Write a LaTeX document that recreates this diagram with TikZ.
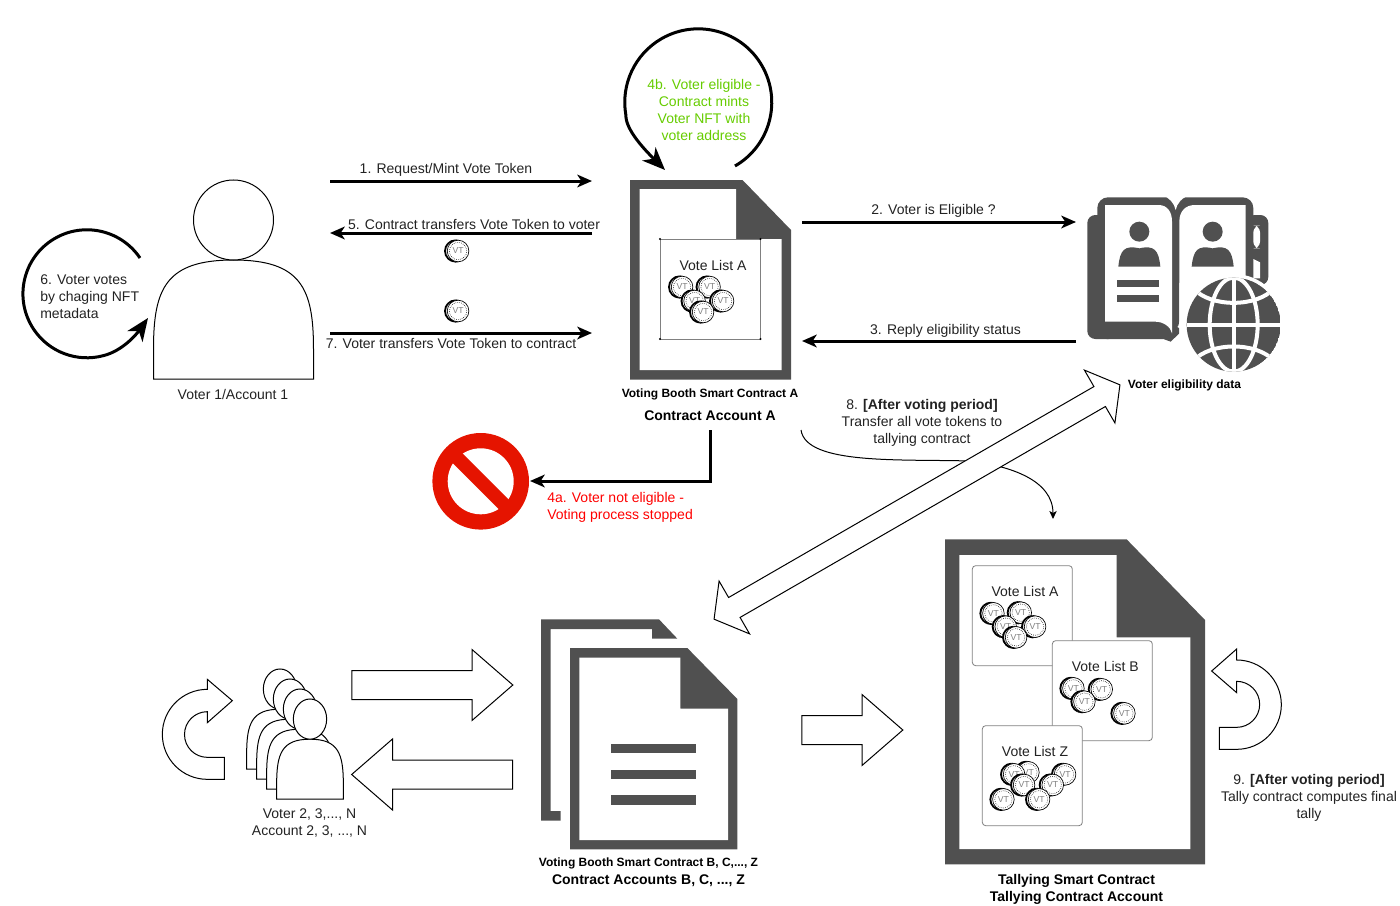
\documentclass[tikz,border=0pt]{standalone}
\usepackage{fontspec}
\setmainfont{Liberation Sans}
\usetikzlibrary{arrows.meta,shapes.arrows}
\definecolor{icongray}{HTML}{505050}
\definecolor{labelgray}{HTML}{222222}
\definecolor{stopred}{HTML}{E51400}
\definecolor{okgreen}{HTML}{66CC00}
\tikzset{
	lbl/.style={font=\fontsize{10.5pt}{12.75pt}\selectfont,text=labelgray,align=center,inner sep=0pt},
	boldlbl/.style={font=\fontsize{10.5pt}{12.75pt}\selectfont\bfseries,text=black,align=center,inner sep=0pt},
	smalllbl/.style={font=\fontsize{9pt}{12pt}\selectfont\bfseries,text=black,align=center,inner sep=0pt},
	msgarrow/.style={line width=2.25pt,-{Stealth[length=11pt,width=9.5pt,inset=3pt]}},
	looparrow/.style={line width=2.25pt,-{Stealth[length=17pt,width=14pt,inset=5pt]}},
	thinarrow/.style={line width=.75pt,-{Stealth[length=6pt,width=5.5pt,inset=1.5pt]}},
	blockarrow/.style={single arrow,draw=black,fill=white,line width=.75pt,inner xsep=0pt,inner ysep=10.5pt,outer sep=0pt,
		minimum width=52.5pt,single arrow head extend=15.75pt,single arrow tip angle=82},
	listbox/.style={draw=gray,fill=white,line width=.6pt,rounded corners=2.5pt},
	person/.style={draw=black,fill=white,line width=.75pt},
	coin/.pic={
		\draw[black,fill=white,line width=1.4pt,dash pattern=on .5pt off .2pt] (-1pt,0pt) circle (8pt);
		\draw[black,fill=white,line width=.5pt] (.8pt,0pt) circle (8.1pt);
		\draw[black,line width=.45pt,densely dotted] (.8pt,0pt) circle (6.5pt);
		\node[font=\fontsize{6.5pt}{6.5pt}\selectfont,text=gray,inner sep=0pt] (vt) at (.8pt,0pt) {VT};
	},
	voter/.pic={
		\draw[person] (-80,0) -- (-80,-30) .. controls (-80,-90) and (-68,-119) .. (0,-119)
			.. controls (68,-119) and (80,-90) .. (80,-30) -- (80,0) -- cycle;
		\draw[person] (0,-159) circle (40);
	}
}
\begin{document}
\begin{tikzpicture}[x=.75pt,y=-.75pt]
	\useasboundingbox (0,0) rectangle (1400,906);

	\pic at (233.5,379) {voter};
	\node[lbl] (voterlbl) at (233,394) {Voter 1/Account 1};

	\coordinate (req1) at (330,181);
	\coordinate (req2) at (592,181);
	\coordinate (tr1) at (592,233);
	\coordinate (tr2) at (330,233);
	\coordinate (vt1) at (330,333);
	\coordinate (vt2) at (592,333);
	\draw[msgarrow] (req1) -- (req2);
	\draw[msgarrow] (tr1) -- (tr2);
	\draw[msgarrow] (vt1) -- (vt2);
	\node[lbl] (msg1) at (446,170) {1. Request/Mint Vote Token};
	\node[lbl] (msg5) at (474,224) {5. Contract transfers Vote Token to voter};
	\node[lbl] (msg7) at (451,343) {7. Voter transfers Vote Token to contract};
	\pic at (457,251) {coin};
	\pic at (457,311) {coin};

	\coordinate (self6a) at (140,258);
	\coordinate (self6b) at (148,318);
	\draw[looparrow] (self6a) arc (-34:-285:64) .. controls (122,351) and (136,335) .. (self6b);
	\node[lbl,align=left,anchor=west] (msg6) at (40,297) {6. Voter votes\\by chaging NFT\\metadata};

	\coordinate (self4a) at (735,166);
	\coordinate (self4b) at (665,170);
	\draw[looparrow] (self4a) arc (60:-190:73.5) .. controls (625.6,130) and (645,150) .. (self4b);
	\node[lbl,text=okgreen] (msg4b) at (704,110) {4b. Voter eligible -\\Contract mints\\Voter NFT with\\voter address};

	\fill[icongray] (630,180) -- (742.5,180) -- (791,230) -- (791,379.5) -- (630,379.5) -- cycle;
	\fill[white] (639.5,189) -- (736,189) -- (736,239) -- (781.5,239) -- (781.5,370) -- (639.5,370) -- cycle;
	\draw[draw=gray,fill=white,line width=.6pt] (660,239) rectangle (760.5,339);
	\foreach \kx/\ky in {660/239,760.5/239,660/339,760.5/339}
		\fill[black] (\kx,\ky) circle (1.2);
	\node[lbl] (listA) at (713,265) {Vote List A};
	\foreach \cx/\cy in {681/287,708.5/287,693.5/301,722/301,702/312}
		\pic at (\cx,\cy) {coin};
	\node[smalllbl] (boothA) at (710,394) {Voting Booth Smart Contract A};
	\node[boldlbl] (accA) at (710,416) {Contract Account A};

	\coordinate (elig1) at (802,222);
	\coordinate (elig2) at (1076,222);
	\coordinate (rep1) at (1076,341);
	\coordinate (rep2) at (802,341);
	\draw[msgarrow] (elig1) -- (elig2);
	\draw[msgarrow] (rep1) -- (rep2);
	\node[lbl] (msg2) at (933.5,211) {2. Voter is Eligible ?};
	\node[lbl] (msg3) at (945.5,331) {3. Reply eligibility status};

	\begin{scope}[shift={(1080,185)},x=.25pt,y=-.25pt]
		\fill[icongray,rounded corners=6pt] (22,90) rectangle (110,462);
		\fill[icongray] (80,400) -- (250,400) -- (298,430) -- (298,445) -- (272,470) -- (250,462) -- (80,462) -- cycle;
		\fill[icongray,rounded corners=8pt] (52,37) -- (298,37) -- (298,440) -- (52,440) -- cycle;
		\fill[icongray,rounded corners=8pt] (285,37) -- (520,37) -- (520,300) -- (285,300) -- cycle;
		\fill[icongray,rounded corners=6pt] (500,90) rectangle (565,300);
		\fill[white] (245,30) .. controls (268,37) and (283,55) .. (287,75) .. controls (291,55) and (306,37) .. (330,30) -- cycle;
		\fill[white,rounded corners=5pt] (520,122) -- (540,122) -- (540,190) -- (520,190) -- cycle;
		\fill[white] (520,222) -- (540,232) -- (540,280) -- (520,280) -- cycle;
		\fill[white] (75,60) -- (235,60) .. controls (262,60) and (276,80) .. (276,110) -- (276,445)
			.. controls (272,425) and (250,410) .. (225,410) -- (75,410) -- cycle;
		\fill[white] (298,110) .. controls (298,80) and (315,60) .. (345,60) -- (497,60) -- (497,300) -- (400,480) -- (298,480) -- cycle;
		\fill[white] (283,462) -- (310,462) -- (310,500) -- (283,500) -- cycle;
		\foreach \bx in {178,398}{
			\fill[icongray] (\bx,140) circle (30);
			\fill[icongray] (\bx-63,245) .. controls (\bx-58,195) and (\bx-45,180) .. (\bx,190)
				.. controls (\bx+45,180) and (\bx+58,195) .. (\bx+63,245) -- cycle;
		}
		\fill[icongray] (110,285) rectangle (238,305);
		\fill[icongray] (110,330) rectangle (238,350);
		\fill[white] (461,419) circle (152);
		\begin{scope}
			\clip (461,419) circle (141);
			\fill[icongray] (461,419) circle (141);
			\draw[white,line width=3pt] (461,278) -- (461,560);
			\draw[white,line width=3pt] (320,419) -- (602,419);
			\draw[white,line width=3pt] (461,419) ellipse (72 and 141);
			\draw[white,line width=3pt] (340,310) .. controls (390,368) and (532,368) .. (582,310);
			\draw[white,line width=3pt] (340,528) .. controls (390,470) and (532,470) .. (582,528);
		\end{scope}
	\end{scope}
	\node[smalllbl] (bookname) at (1184.5,385) {Voter eligibility data};

	\fill[stopred] (480.7,481.3) circle (48.3);
	\fill[white] (480.7,481.3) circle (33);
	\draw[stopred,line width=10.3pt] (456,456.6) -- (505.4,506);
	\coordinate (stop1) at (710,430);
	\coordinate (stop2) at (530,481);
	\draw[msgarrow] (stop1) |- (stop2);
	\node[lbl,text=red,align=left,anchor=west] (msg4a) at (547,507.5) {4a. Voter not eligible -\\Voting process stopped};

	\node[lbl] (msg8) at (922,423) {8. \textbf{[After voting period]}\\Transfer all vote tokens to\\tallying contract};
	\coordinate (curve1) at (801,430);
	\coordinate (curve2) at (1053,519);
	\draw[thinarrow] (curve1) .. controls (806,465) and (900,459) .. (970,461)
		.. controls (1010,466) and (1053,480) .. (curve2);
	\node[double arrow,draw=black,fill=white,line width=.75pt,inner xsep=0pt,inner ysep=8.25pt,outer sep=0pt,rotate=30,
		minimum height=351.5pt,minimum width=45pt,double arrow head extend=14.25pt,double arrow tip angle=105]
		(transfer) at (917,502) {};

	\foreach \sx/\sy in {0/0,10/10,20/20,30/30}{
		\begin{scope}[shift={(280+\sx,769+\sy)},x=.3125pt,y=-.377pt]
			\pic at (0,0) {voter};
		\end{scope}
	}
	\node[lbl] (voterslbl) at (309.5,823) {Voter 2, 3,..., N\\Account 2, 3, ..., N};
	\begin{scope}[shift={(150,610)},x=.25pt,y=-.25pt]
		\draw[person] (172,238) arc (-90:-270:135) -- (223,508) -- (223,442) -- (172,442) arc (90:270:68.5)
			-- (172,338) -- (247,272) -- (172,208) -- cycle;
	\end{scope}
	\node[blockarrow,minimum height=120.75pt] (toB) at (424,685) {};
	\node[blockarrow,minimum height=120.75pt,shape border rotate=180] (fromB) at (440.5,774.5) {};

	\begin{scope}[shift={(530,610)},x=.25pt,y=-.25pt]
		\fill[icongray] (33,28) -- (387,28) -- (442,86) -- (366,86) -- (366,57) -- (62,57) -- (62,603) -- (92,603) -- (92,632) -- (33,632) -- cycle;
		\fill[icongray] (120,114) -- (472,114) -- (622,267) -- (622,718) -- (120,718) -- cycle;
		\fill[white] (148,143) -- (451,143) -- (451,296) -- (594,296) -- (594,690) -- (148,690) -- cycle;
		\fill[icongray] (243,402) rectangle (499,430);
		\fill[icongray] (243,479) rectangle (499,507);
		\fill[icongray] (243,556) rectangle (499,584);
	\end{scope}
	\node[smalllbl] (boothB) at (648.5,863) {Voting Booth Smart Contract B, C,..., Z};
	\node[boldlbl] (accB) at (648.5,881) {Contract Accounts B, C, ..., Z};

	\node[blockarrow,minimum height=75.75pt] (toT) at (844,730) {};

	\begin{scope}[shift={(940,535)},x=.25pt,y=-.25pt]
		\fill[icongray] (15,13) -- (560,13) -- (795,255) -- (795,988) -- (15,988) -- cycle;
		\fill[white] (58,60) -- (530,60) -- (530,307) -- (751,307) -- (751,942) -- (58,942) -- cycle;
		\draw[listbox] (97,92) rectangle (397,392);
		\node[lbl] (tallyA) at (255,170) {Vote List A};
		\foreach \cx/\cy in {157/235,239/233,194/275,282/275,225/307}
			\pic at (\cx,\cy) {coin};
		\draw[listbox] (337,317) rectangle (637,617);
		\node[lbl] (tallyB) at (496,395) {Vote List B};
		\foreach \cx/\cy in {397/460,482/463,430/500,550/535}
			\pic at (\cx,\cy) {coin};
		\draw[listbox] (127,572) rectangle (427,872);
		\node[lbl] (tallyZ) at (285,648) {Vote List Z};
		\foreach \cx/\cy in {262/712,372/718,219/718,335/750,249/750,294/793,187/793}
			\pic at (\cx,\cy) {coin};
	\end{scope}
	\node[boldlbl] (tallyname) at (1076.5,889.5) {Tallying Smart Contract\\Tallying Contract Account};

	\begin{scope}[shift={(1200,640)},x=.25pt,y=-.25pt]
		\draw[person] (110,60) arc (-90:90:134) -- (58,328) -- (58,262) -- (110,262) arc (90:-90:69)
			-- (110,158) -- (35,93) -- (110,27) -- cycle;
	\end{scope}
	\node[lbl] (msg9) at (1309,798) {9. \textbf{[After voting period]}\\Tally contract computes final\\tally};
\end{tikzpicture}
\end{document}
